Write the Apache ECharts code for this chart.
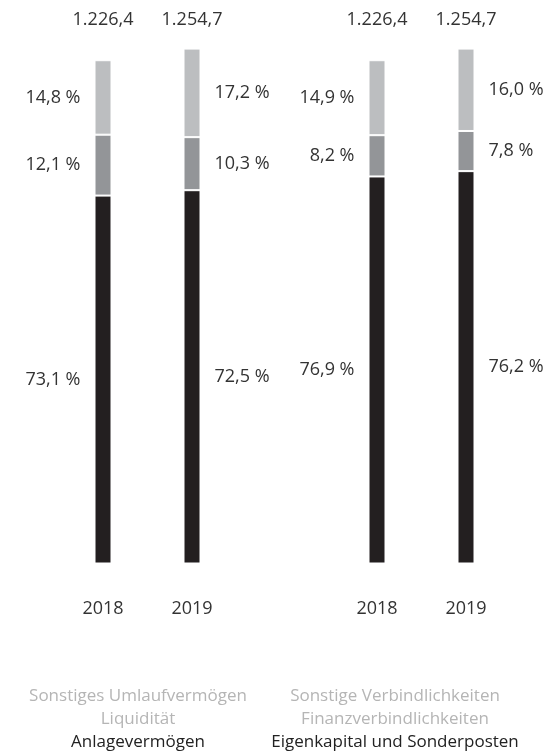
<!DOCTYPE html>
<html>
<head>
<meta charset="utf-8">
<script src="https://cdn.jsdelivr.net/npm/echarts@6/dist/echarts.min.js"></script>
<style>
  html, body { margin: 0; padding: 0; background: #fff; }
  #chart { width: 556px; height: 756px; }
</style>
</head>
<body>
<div id="chart"></div>
<script>
// Daten
const years = ['2018', '2019'];
const totals = [1226.4, 1254.7];

// Aktiva (Anteile in %)
const aktivaNames = ['Anlagevermögen', 'Liquidität', 'Sonstiges Umlaufvermögen'];
const anlagevermoegen = [73.1, 72.5];
const liquiditaet = [12.1, 10.3];
const sonstigesUmlauf = [14.8, 17.2];

// Passiva (Anteile in %)
const passivaNames = ['Eigenkapital und Sonderposten', 'Finanzverbindlichkeiten', 'Sonstige Verbindlichkeiten'];
const eigenkapital = [76.9, 76.2];
const finanzverb = [8.2, 7.8];
const sonstigeVerb = [14.9, 16.0];

const colors = ['#231f20', '#939598', '#bcbec0'];
const FONT = '"Open Sans", "Noto Sans", sans-serif';

function fmtPct(v) { return v.toFixed(1).replace('.', ',') + ' %'; }
function fmtTotal(v) {
  const parts = v.toFixed(1).split('.');
  return parts[0].replace(/\B(?=(\d{3})+(?!\d))/g, '.') + ',' + parts[1];
}

function makeSeries(names, shares, gridIdx) {
  return shares.map((arr, i) => ({
    name: names[i],
    type: 'bar',
    stack: 'g' + gridIdx,
    xAxisIndex: gridIdx * 2,
    yAxisIndex: gridIdx,
    barWidth: 17,
    itemStyle: { color: colors[i], borderColor: '#fff', borderWidth: 1 },
    label: {
      show: true,
      distance: 14,
      color: '#333',
      fontSize: 18,
      fontFamily: FONT,
      formatter: p => fmtPct(arr[p.dataIndex])
    },
    data: arr.map((pct, j) => ({
      value: totals[j] * pct / 100,
      label: { position: j === 0 ? 'left' : 'right' }
    }))
  }));
}

const chart = echarts.init(document.getElementById('chart'));

const grids = [
  { left: 58.5, width: 178, top: 30, bottom: 192.5 },
  { left: 332.5, width: 178, top: 30, bottom: 192.5 }
];

const xAxes = [];
const yAxes = [];
grids.forEach((g, gi) => {
  xAxes.push({
    type: 'category', gridIndex: gi, data: years, position: 'bottom',
    axisLine: { show: false }, axisTick: { show: false },
    axisLabel: { margin: 36, color: '#333', fontSize: 18, fontFamily: FONT }
  });
  xAxes.push({
    type: 'category', gridIndex: gi, data: totals.map(fmtTotal), position: 'top',
    axisLine: { show: false }, axisTick: { show: false },
    axisLabel: { margin: 1, color: '#333', fontSize: 18, fontFamily: FONT }
  });
  yAxes.push({ type: 'value', gridIndex: gi, min: 0, max: 1300, show: false, splitLine: { show: false } });
});

function legendText(names, cx) {
  const ys = [696, 719, 742];
  const fills = ['#b5b5b5', '#b5b5b5', '#222'];
  return [2, 1, 0].map((ni, k) => ({
    type: 'text',
    x: cx,
    y: ys[k],
    style: {
      text: names[ni],
      textAlign: 'center',
      textVerticalAlign: 'middle',
      fontSize: 17,
      fontFamily: FONT,
      fill: fills[k]
    }
  }));
}

const option = {
  animation: false,
  grid: grids,
  xAxis: xAxes,
  yAxis: yAxes,
  series: [].concat(
    makeSeries(aktivaNames, [anlagevermoegen, liquiditaet, sonstigesUmlauf], 0),
    makeSeries(passivaNames, [eigenkapital, finanzverb, sonstigeVerb], 1)
  ),
  graphic: [].concat(legendText(aktivaNames, 138), legendText(passivaNames, 395))
};

chart.setOption(option);
</script>
</body>
</html>
